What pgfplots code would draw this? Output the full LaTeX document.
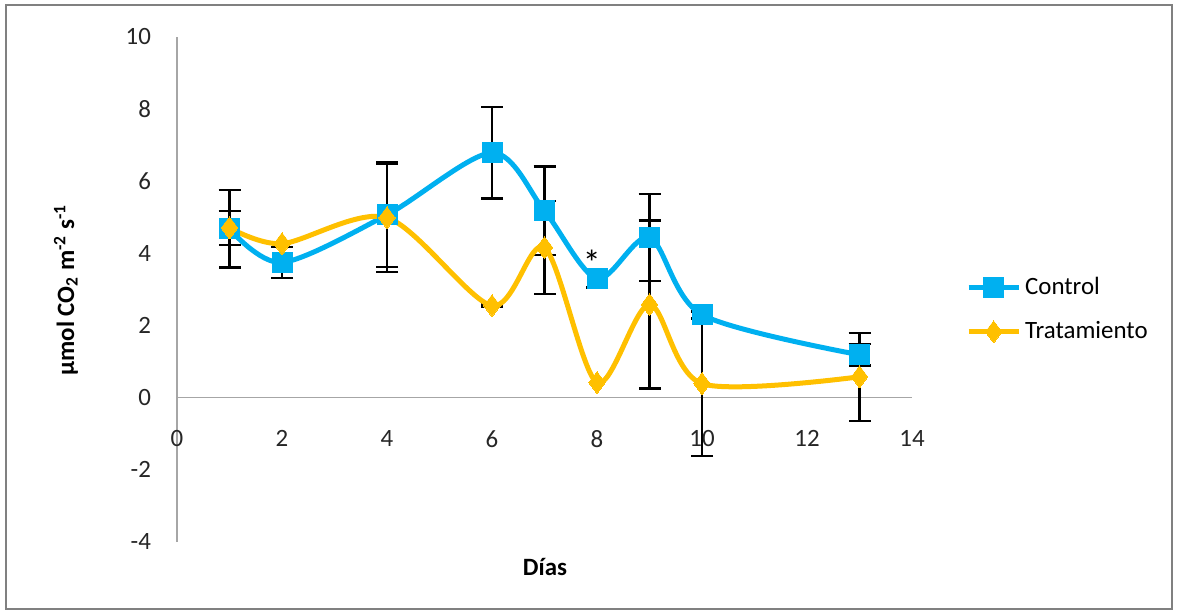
\documentclass[border=0pt]{standalone}
\usepackage{fontspec}
\setmainfont{Carlito}
\usepackage{pgfplots}
\usepackage{pgfplotstable}
\pgfplotsset{compat=1.18}
\definecolor{cblue}{HTML}{00B0F0}
\definecolor{cgold}{HTML}{FFC000}
\pgfplotstableread{
x c ce t
1 4.68 1.07 4.71
2 3.75 0.43 4.27
4 5.07 1.45 4.99
6 6.79 1.27 2.55
7 5.18 1.23 4.16
8 3.30 0.25 0.42
9 4.44 1.20 2.58
10 2.30 0.10 0.39
13 1.19 0.30 0.58
}\data
\pgfplotstableread{
x t te
1 4.71 0.47
4 4.99 1.50
6 2.55 0.03
7 4.16 1.29
9 2.58 2.33
10 0.39 2.00
13 0.58 1.22
}\terr
\begin{document}
\begin{tikzpicture}[font=\fontsize{12.5}{15}\selectfont]
\useasboundingbox (0,0) rectangle (588.5bp,305.5bp);
\draw[color=gray, line width=1bp] (3bp,1bp) rectangle (586bp,303bp);
\begin{axis}[
  at={(88.5bp,34.5bp)}, anchor=south west,
  scale only axis, width=367.5bp, height=252.5bp,
  xmin=0, xmax=14, ymin=-4, ymax=10,
  axis lines=middle,
  axis line style={-, color=gray!70, line width=0.6bp},
  xtick={0,2,...,14}, ytick={-4,-2,...,10},
  major tick length=0pt,
  hide obscured x ticks=false, hide obscured y ticks=false,
  /pgf/number format/assume math mode=true,
  xticklabel style={yshift=-13bp, text=black!85},
  yticklabel style={xshift=-9.5bp, text=black!85},
  xlabel={\textbf{Días}},
  ylabel={\textbf{µmol CO\textsubscript{2} m\textsuperscript{-2} s\textsuperscript{-1}}},
  xlabel style={at={(axis description cs:0.5007,-0.0495)}, anchor=center},
  ylabel style={at={(axis description cs:-0.151,0.499)}, anchor=center, rotate=90},
  legend style={at={(axis description cs:1.065,0.46)}, anchor=west, draw=none, fill=none, row sep=8bp, font=\fontsize{12.5}{15}\selectfont},
  legend cell align=left,
  legend image code/.code={\draw[mark repeat=2, mark phase=2, #1] plot coordinates {(0bp,0bp) (12.5bp,0bp) (25bp,0bp)};},
  clip=false,
]
\addplot[forget plot, draw=none, mark=none, error bars/.cd, y dir=both, y explicit,
  error bar style={black, line width=1.2bp},
  error mark options={black, rotate=90, mark size=5.5bp, line width=1.2bp}]
  table[x=x, y=c, y error=ce] {\data};
\addplot[forget plot, draw=none, mark=none, error bars/.cd, y dir=both, y explicit,
  error bar style={black, line width=1.2bp},
  error mark options={black, rotate=90, mark size=5.5bp, line width=1.2bp}]
  table[x=x, y=t, y error=te] {\terr};
\addplot[cblue, line width=2.5bp, smooth, mark=square*, mark size=5bp, mark options={solid, fill=cblue, draw=cblue, line width=0pt}]
  table[x=x, y=c] {\data};
\addlegendentry{Control}
\addplot[cgold, line width=2.5bp, smooth, mark=diamond*, mark size=5.5bp, mark options={solid, fill=cgold, draw=cgold, line width=0pt}]
  table[x=x, y=t] {\data};
\addlegendentry{Tratamiento}
\node[font=\fontsize{18}{20}\selectfont] at (axis cs:7.9,3.75) {*};
\end{axis}
\end{tikzpicture}
\end{document}
